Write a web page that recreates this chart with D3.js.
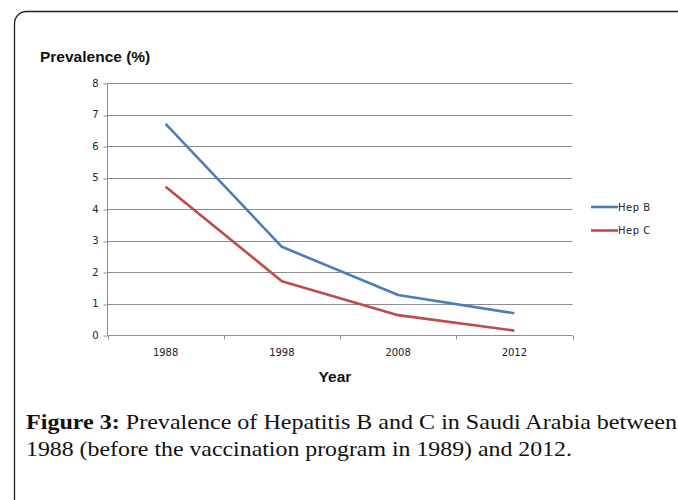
<!DOCTYPE html>
<html>
<head>
<meta charset="utf-8">
<script src="https://cdn.jsdelivr.net/npm/d3@7"></script>
<style>
  html, body { margin: 0; padding: 0; background: #fff; }
  svg { display: block; }
</style>
</head>
<body>
<svg id="canvas" width="678" height="500"></svg>
<script>
// chart data
const years = ["1988", "1998", "2008", "2012"]
const hepB = [6.7, 2.8, 1.27, 0.69]
const hepC = [4.71, 1.71, 0.63, 0.14]
const seriesNames = ["Hep B", "Hep C"]
const seriesColors = ["#4a7ebb", "#be4b48"]
const yTicks = [0, 1, 2, 3, 4, 5, 6, 7, 8]

const svg = d3.select("#canvas")

// rounded frame, runs off the right and bottom edges
svg.append("rect")
  .attr("x", 14.5).attr("y", 11.5)
  .attr("width", 720).attr("height", 560)
  .attr("rx", 12).attr("ry", 12)
  .attr("fill", "none")
  .attr("stroke", "#222")
  .attr("stroke-width", 1.3)

const m = { left: 107.5, right: 572.5, top: 83, bottom: 335 }

const x = d3.scaleBand().domain(years).range([m.left, m.right])
const y = d3.scaleLinear().domain([0, 8]).range([m.bottom, m.top])

const lblFont = "'DejaVu Sans', Tahoma, sans-serif"

// gridlines
svg.append("g")
  .selectAll("line")
  .data(yTicks.filter(d => d > 0))
  .enter().append("line")
  .attr("x1", m.left).attr("x2", m.right)
  .attr("y1", d => Math.round(y(d)) + 0.5)
  .attr("y2", d => Math.round(y(d)) + 0.5)
  .attr("stroke", "#8c8c8c")
  .attr("stroke-width", 1)

// y axis
const yAxis = svg.append("g")
  .attr("transform", `translate(${m.left},0)`)
  .call(d3.axisLeft(y).tickValues(yTicks).tickSize(4).tickPadding(5)
    .tickFormat(d3.format("d")))
yAxis.select(".domain").attr("stroke", "#8c8c8c").attr("d", `M0,${m.top}V${m.bottom}`)
yAxis.selectAll(".tick line").attr("stroke", "#8c8c8c")
  .attr("transform", d => `translate(0,${Math.round(y(d)) + 0.5 - y(d)})`)
yAxis.selectAll(".tick text")
  .attr("font-family", lblFont).attr("font-size", 10).attr("fill", "#222")

// x axis: ticks between categories
const xAxisG = svg.append("g")
  .attr("transform", `translate(0,${m.bottom + 0.5})`)
xAxisG.append("line")
  .attr("x1", m.left).attr("x2", m.right)
  .attr("stroke", "#8c8c8c")
const bounds = years.map(d => x(d)).concat([m.right])
xAxisG.selectAll("line.tk")
  .data(bounds)
  .enter().append("line")
  .attr("class", "tk")
  .attr("x1", d => Math.round(d) + 0.5).attr("x2", d => Math.round(d) + 0.5)
  .attr("y1", 0).attr("y2", 4)
  .attr("stroke", "#8c8c8c")
xAxisG.selectAll("text")
  .data(years)
  .enter().append("text")
  .attr("x", d => x(d) + x.bandwidth() / 2)
  .attr("y", 20.5)
  .attr("text-anchor", "middle")
  .attr("font-family", lblFont).attr("font-size", 10).attr("fill", "#222")
  .text(d => d)

// lines
const line = d3.line()
  .x((d, i) => x(years[i]) + x.bandwidth() / 2)
  .y(d => y(d))

svg.append("g")
  .selectAll("path")
  .data([hepB, hepC])
  .enter().append("path")
  .attr("d", d => line(d))
  .attr("fill", "none")
  .attr("stroke", (d, i) => seriesColors[i])
  .attr("stroke-width", 2.6)
  .attr("stroke-linejoin", "round")

// legend
const legend = svg.append("g").attr("transform", "translate(591,207)")
const li = legend.selectAll("g")
  .data(seriesNames)
  .enter().append("g")
  .attr("transform", (d, i) => `translate(0,${i * 23.5})`)
li.append("line")
  .attr("x1", 0).attr("x2", 27)
  .attr("stroke", (d, i) => seriesColors[i])
  .attr("stroke-width", 2.6)
li.append("text")
  .attr("x", 27).attr("y", 3.5)
  .attr("font-family", lblFont).attr("font-size", 10)
  .attr("letter-spacing", 0.5).attr("fill", "#222")
  .text(d => d)

// axis titles
svg.append("text")
  .attr("x", 40).attr("y", 62)
  .attr("font-family", "'Liberation Sans', Arial, sans-serif")
  .attr("font-weight", "bold").attr("font-size", 15.5).attr("fill", "#111")
  .text("Prevalence (%)")

svg.append("text")
  .attr("x", 335).attr("y", 382)
  .attr("text-anchor", "middle")
  .attr("font-family", "'Liberation Sans', Arial, sans-serif")
  .attr("font-weight", "bold").attr("font-size", 15.5).attr("fill", "#111")
  .text("Year")

// caption
const serif = "'Liberation Serif', 'DejaVu Serif', serif"
const cap1 = svg.append("text")
  .attr("x", 26).attr("y", 429)
  .attr("font-family", serif).attr("font-size", 21).attr("fill", "#111")
cap1.append("tspan").attr("font-weight", "bold").text("Figure 3:")
cap1.append("tspan").text(" Prevalence of Hepatitis B and C in Saudi Arabia between")
const cap2 = svg.append("text")
  .attr("x", 26).attr("y", 456)
  .attr("font-family", serif).attr("font-size", 21).attr("fill", "#111")
  .text("1988 (before the vaccination program in 1989) and 2012.")

// squeeze caption lines to the reference widths
const fit = (sel, w) => {
  const len = sel.node().getComputedTextLength()
  if (len > 0) sel.attr("textLength", w).attr("lengthAdjust", "spacingAndGlyphs")
}
fit(cap1, 651)
fit(cap2, 546)
</script>
</body>
</html>
